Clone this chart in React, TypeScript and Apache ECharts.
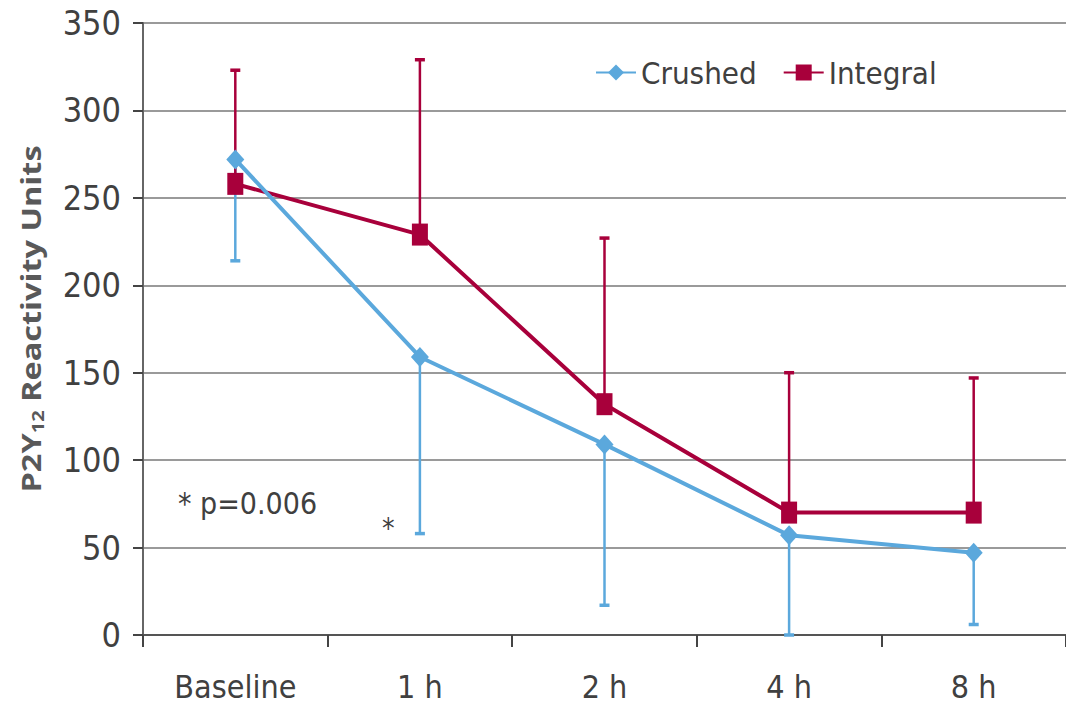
import React, { useEffect, useRef } from "react";
import * as echarts from "echarts";

const categories = ["Baseline", "1 h", "2 h", "4 h", "8 h"];
const crushed = [272, 159, 109, 57, 47];
const crushedLower = [214, 58, 17, 0, 6];
const integral = [258, 229, 132, 70, 70];
const integralUpper = [323, 329, 227, 150, 147];
const yTicks = { min: 0, max: 350, interval: 50 };

const BLUE = "#5BA8DC";
const RED = "#A8003B";
const FONT = "'Liberation Sans Narrow', 'DejaVu Sans Condensed', 'Roboto', sans-serif";
const TFONT = "'Open Sans', 'Noto Sans', sans-serif";

function errRender(color: string) {
  return (params: any, api: any) => {
    const x = api.value(0);
    const from = api.coord([x, api.value(1)]);
    const to = api.coord([x, api.value(2)]);
    const cap = 5;
    return {
      type: "group",
      children: [
        {
          type: "line",
          shape: { x1: from[0], y1: from[1], x2: to[0], y2: to[1] },
          style: { stroke: color, lineWidth: 2.5 },
        },
        {
          type: "line",
          shape: { x1: to[0] - cap, y1: to[1], x2: to[0] + cap, y2: to[1] },
          style: { stroke: color, lineWidth: 3.5 },
        },
      ],
    };
  };
}

export default function App() {
  const ref = useRef<HTMLDivElement>(null);
  useEffect(() => {
    if (!ref.current) return;
    const chart = echarts.init(ref.current, null, { renderer: "svg" });
    chart.setOption({
      animation: false,
      backgroundColor: "#ffffff",
      grid: { left: 143, top: 23, bottom: 72, right: -8, containLabel: false },
      legend: {
        left: 590,
        top: 52,
        itemWidth: 40,
        itemHeight: 20,
        itemGap: 26,
        textStyle: { fontFamily: FONT, fontSize: 31, color: "#404040" },
        data: ["Crushed", "Integral"],
      },
      xAxis: {
        type: "category",
        data: categories,
        boundaryGap: true,
        axisLine: { lineStyle: { color: "#555555", width: 2 } },
        axisTick: { show: true, length: 12, lineStyle: { color: "#444444", width: 2 } },
        axisLabel: { fontFamily: FONT, fontSize: 32, color: "#404040", margin: 36 },
      },
      yAxis: {
        type: "value",
        min: yTicks.min,
        max: yTicks.max,
        interval: yTicks.interval,
        axisLine: { show: true, lineStyle: { color: "#666666", width: 2 } },
        axisTick: { show: true, length: 10, lineStyle: { color: "#444444", width: 2 } },
        axisLabel: { fontFamily: FONT, fontSize: 34, color: "#404040", margin: 22 },
        splitLine: { lineStyle: { color: "#9a9a9a", width: 2 } },
      },
      series: [
        {
          type: "custom",
          name: "crushedErr",
          renderItem: errRender(BLUE),
          data: categories.map((_, i) => [i, crushed[i], crushedLower[i]]),
          z: 1,
          silent: true,
        },
        {
          type: "custom",
          name: "integralErr",
          renderItem: errRender(RED),
          data: categories.map((_, i) => [i, integral[i], integralUpper[i]]),
          z: 1,
          silent: true,
        },
        {
          type: "line",
          name: "Integral",
          data: integral,
          symbol: "rect",
          symbolSize: [16, 22],
          lineStyle: { color: RED, width: 4 },
          itemStyle: { color: RED },
          z: 3,
        },
        {
          type: "line",
          name: "Crushed",
          data: crushed,
          symbol: "diamond",
          symbolSize: [18, 20],
          lineStyle: { color: BLUE, width: 4 },
          itemStyle: { color: BLUE },
          z: 4,
        },
      ],
      graphic: [
        {
          type: "text",
          x: 31,
          y: 319,
          rotation: Math.PI / 2,
          scaleX: 1.25,
          style: {
            text: "{a|P2Y}{s|12}{a| Reactivity Units}",
            fontFamily: TFONT,
            fontWeight: "bold",
            fontSize: 26,
            fill: "#595959",
            align: "center",
            verticalAlign: "middle",
            rich: {
              a: { fontFamily: TFONT, fontWeight: "bold", fontSize: 26, fill: "#595959" },
              s: { fontFamily: TFONT, fontWeight: "bold", fontSize: 16, fill: "#595959", padding: [14, 0, 0, 0] },
            },
          },
        },
        {
          type: "text",
          left: 178,
          top: 488,
          style: { text: "* p=0.006", fontFamily: FONT, fontSize: 30, fill: "#404040" },
        },
        {
          type: "text",
          left: 382,
          top: 514,
          style: { text: "*", fontFamily: FONT, fontSize: 28, fill: "#404040" },
        },
      ],
    });
    return () => chart.dispose();
  }, []);
  return <div ref={ref} style={{ width: 1066, height: 707, position: "absolute", left: 0, top: 0 }} />;
}
